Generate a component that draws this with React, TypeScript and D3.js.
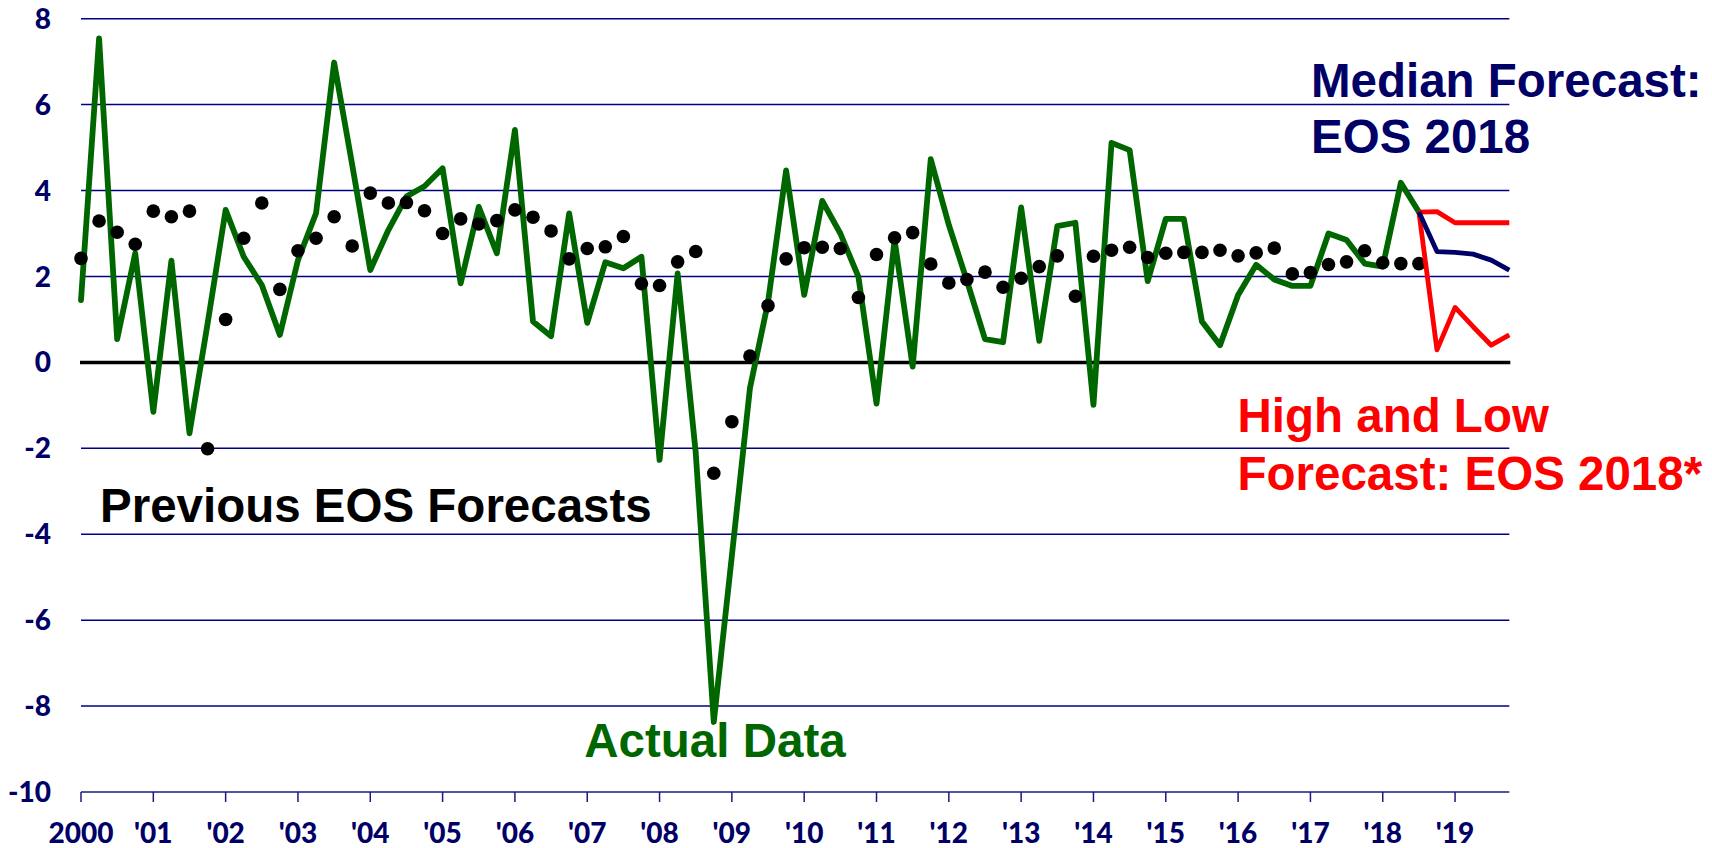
import { line as d3Line, scaleLinear, range } from "d3";

// quarterly, index 0 = 2000 Q1
const actualData = [
  1.45, 7.54, 0.54, 2.54, -1.15, 2.37, -1.65, 0.9, 3.55, 2.46,
  1.8, 0.64, 2.38, 3.47, 6.98, 4.6, 2.15, 3.08, 3.86, 4.1,
  4.52, 1.84, 3.62, 2.54, 5.41, 0.95, 0.61, 3.47, 0.92, 2.33,
  2.19, 2.46, -2.27, 2.07, -2.1, -8.37, -4.5, -0.6, 1.4, 4.47,
  1.57, 3.76, 3.0, 1.99, -0.96, 2.85, -0.1, 4.73, 3.2, 1.9,
  0.54, 0.47, 3.61, 0.5, 3.17, 3.25, -0.99, 5.11, 4.94, 1.89,
  3.34, 3.34, 0.95, 0.4, 1.57, 2.27, 1.93, 1.78, 1.78, 3.0,
  2.85, 2.3, 2.23, 4.18, 3.5,
];

const previousForecasts = [
  2.42, 3.29, 3.03, 2.75, 3.52, 3.39, 3.52, -2.01, 1.0, 2.89,
  3.71, 1.7, 2.6, 2.89, 3.39, 2.71, 3.94, 3.71, 3.72, 3.53,
  3.0, 3.34, 3.22, 3.3, 3.55, 3.38, 3.06, 2.41, 2.65, 2.69,
  2.93, 1.83, 1.79, 2.34, 2.58, -2.58, -1.38, 0.15, 1.32, 2.41,
  2.67, 2.68, 2.65, 1.51, 2.51, 2.9, 3.02, 2.29, 1.85, 1.93,
  2.1, 1.75, 1.96, 2.23, 2.48, 1.54, 2.47, 2.61, 2.68, 2.44,
  2.54, 2.56, 2.56, 2.61, 2.48, 2.55, 2.66, 2.06, 2.09, 2.28,
  2.34, 2.6, 2.32, 2.3, 2.3,
];

// forecasts start at the last actual quarter (index 74)
const forecastStart = 74;
const medianForecast = [3.5, 2.58, 2.56, 2.52, 2.38, 2.15];
const highForecast = [3.5, 3.51, 3.25, 3.25, 3.25, 3.25];
const lowForecast = [3.5, 0.29, 1.28, 0.83, 0.4, 0.64];

const yearLabels = [
  "2000", "'01", "'02", "'03", "'04", "'05", "'06", "'07", "'08", "'09",
  "'10", "'11", "'12", "'13", "'14", "'15", "'16", "'17", "'18", "'19",
];
const yTicks = [8, 6, 4, 2, 0, -2, -4, -6, -8, -10];

const WIDTH = 1712;
const HEIGHT = 848;
const NAVY = "#000066";
const GREEN = "#006600";
const RED = "#ff0000";
const labelFont = "Lato, 'Open Sans', sans-serif";
const noteFont = "'Liberation Sans', Arial, sans-serif";

export default function App() {
  const x = scaleLinear().domain([0, 79]).range([81, 1509.3]);
  const y = scaleLinear().domain([-10, 8]).range([792, 18.7]);

  const seriesLine = d3Line<[number, number]>()
    .x((d) => x(d[0]))
    .y((d) => y(d[1]));

  const toPts = (vals: number[], start = 0) =>
    vals.map((v, i) => [start + i, v] as [number, number]);

  const actualPath = seriesLine(toPts(actualData)) ?? "";
  const medianPath = seriesLine(toPts(medianForecast, forecastStart)) ?? "";
  const highPath = seriesLine(toPts(highForecast, forecastStart)) ?? "";
  const lowPath = seriesLine(toPts(lowForecast, forecastStart)) ?? "";

  const [x0, x1] = x.range();

  return (
    <div style={{ position: "absolute", left: 0, top: 0, background: "#fff" }}>
      <svg width={WIDTH} height={HEIGHT} viewBox={`0 0 ${WIDTH} ${HEIGHT}`}>
        <rect width={WIDTH} height={HEIGHT} fill="#fff" />

        {/* grid lines */}
        {yTicks
          .filter((t) => t !== 0 && t !== -10)
          .map((t) => (
            <line key={t} x1={x0} x2={x1} y1={y(t)} y2={y(t)} stroke="#000080" strokeWidth={1.5} />
          ))}

        {/* bottom axis */}
        <line x1={x0} x2={x1} y1={y(-10)} y2={y(-10)} stroke="#1a1a80" strokeWidth={1.5} />
        {range(0, 80, 4).map((q) => (
          <line key={q} x1={x(q)} x2={x(q)} y1={y(-10)} y2={y(-10) + 10} stroke="#1a1a80" strokeWidth={1.5} />
        ))}
        {yearLabels.map((lab, i) => (
          <text
            key={lab}
            x={x(i * 4)}
            y={843}
            textAnchor="middle"
            fontFamily={labelFont}
            fontWeight={900}
            fontSize={28}
            fill={NAVY}
          >
            {lab}
          </text>
        ))}

        {/* y labels */}
        {yTicks.map((t) => (
          <text
            key={t}
            x={51}
            y={y(t)}
            dy="0.36em"
            textAnchor="end"
            fontFamily={labelFont}
            fontWeight={900}
            fontSize={28}
            fill={NAVY}
          >
            {t}
          </text>
        ))}

        {/* zero line */}
        <line x1={x0 - 1} x2={x1 + 1} y1={y(0)} y2={y(0)} stroke="#000" strokeWidth={3.5} />

        {/* actual data */}
        <path d={actualPath} fill="none" stroke={GREEN} strokeWidth={5.8} strokeLinejoin="round" strokeLinecap="round" />

        {/* previous forecasts */}
        {previousForecasts.map((v, i) => (
          <circle key={i} cx={x(i)} cy={y(v)} r={6.8} fill="#000" />
        ))}

        {/* high / low and median forecasts */}
        <path d={highPath} fill="none" stroke={RED} strokeWidth={4.8} strokeLinejoin="round" />
        <path d={lowPath} fill="none" stroke={RED} strokeWidth={4.8} strokeLinejoin="round" />
        <path d={medianPath} fill="none" stroke={NAVY} strokeWidth={4.8} strokeLinejoin="round" />

        {/* annotations */}
        <g fontFamily={noteFont} fontWeight={700} fontSize={47.5}>
          <text x={1311} y={96.7} fill={NAVY}>Median Forecast:</text>
          <text x={1311} y={153.3} fill={NAVY}>EOS 2018</text>
          <text x={1237.5} y={432.3} fill={RED}>High and Low</text>
          <text x={1237.5} y={490} fill={RED}>Forecast: EOS 2018*</text>
          <text x={100} y={521.7} fill="#000">Previous EOS Forecasts</text>
          <text x={584.3} y={756.7} fill={GREEN}>Actual Data</text>
        </g>
      </svg>
    </div>
  );
}
